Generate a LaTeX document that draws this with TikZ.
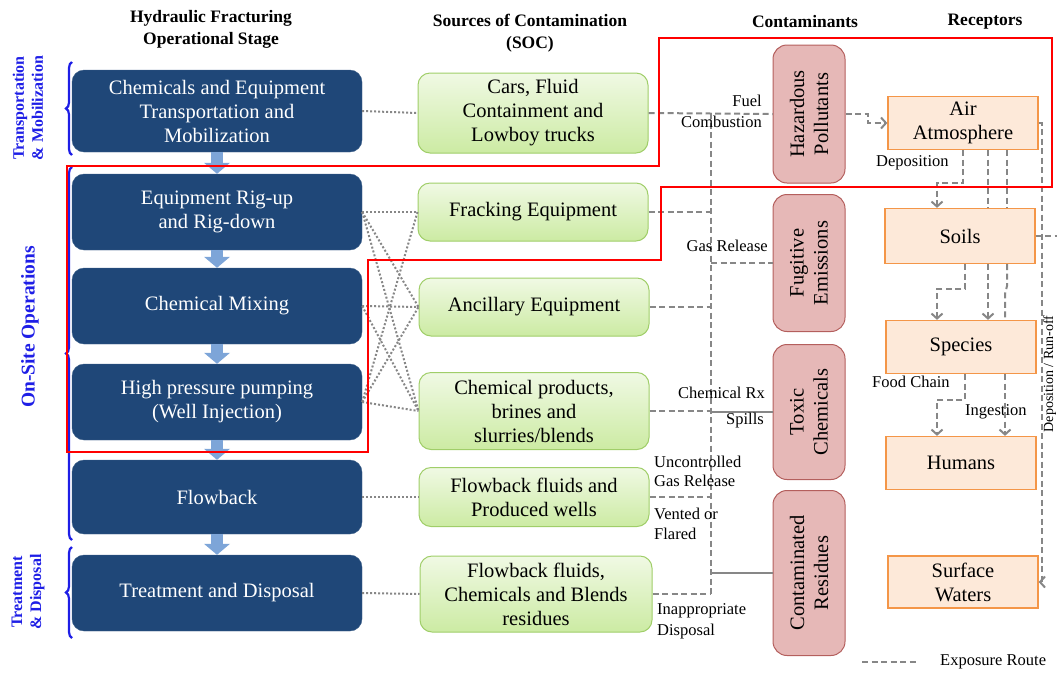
\documentclass[tikz,border=0pt]{standalone}
\usepackage{fontspec}
\setmainfont{Liberation Serif}
\usetikzlibrary{arrows.meta,decorations.pathreplacing}
\definecolor{stageblue}{RGB}{31,71,120}
\definecolor{arrowblue}{RGB}{125,165,216}
\definecolor{soctop}{RGB}{240,249,228}
\definecolor{socbot}{RGB}{204,235,163}
\definecolor{socline}{RGB}{160,206,105}
\definecolor{contfill}{RGB}{230,184,183}
\definecolor{contline}{RGB}{180,95,93}
\definecolor{recfill}{RGB}{253,233,217}
\definecolor{recline}{RGB}{244,150,72}
\definecolor{linegray}{RGB}{135,135,135}
\definecolor{sideblue}{RGB}{30,30,230}
\newcommand\bigtxt{\fontsize{20.5}{24}\selectfont}
\newcommand\smtxt{\fontsize{16.5}{20}\selectfont}
\newcommand\headtxt{\fontsize{17.5}{22}\selectfont}
\newcommand\sidetxt{\fontsize{16}{19}\selectfont}
\tikzset{
  stage/.style={draw=stageblue!85!white, fill=stageblue, text=white, rounded corners=12pt, minimum width=290pt, align=center, font=\bigtxt},
  soc/.style={draw=socline, line width=1pt, top color=soctop, bottom color=socbot, rounded corners=12pt, minimum width=230pt, align=center, font=\bigtxt},
  cont/.style={draw=contline, line width=1pt, fill=contfill, rounded corners=14pt, rotate=90, minimum height=72pt, align=center, font=\bigtxt},
  recp/.style={draw=recline, fill=recfill, line width=1.3pt, minimum width=150pt, minimum height=53pt, align=center, font=\bigtxt},
  dotline/.style={draw=linegray, line width=2pt, dash pattern=on 2pt off 2pt},
  route/.style={draw=linegray, line width=2pt, dash pattern=on 6pt off 3.5pt},
  plain/.style={draw=linegray, line width=2pt},
  rtip/.style={-{Straight Barb[length=5pt,width=11pt]}},
  blk/.style={draw=arrowblue, line width=12pt, -{Triangle[length=11pt,width=26pt,line width=0pt]}},
  lbl/.style={font=\smtxt, inner sep=0pt},
  head/.style={font=\headtxt\bfseries, align=center},
  side/.style={font=\sidetxt\bfseries, text=sideblue, rotate=90, align=center},
  brc/.style={decorate, decoration={brace, amplitude=6pt}, draw=sideblue, line width=2.2pt},
  redline/.style={draw=red, line width=2.4pt}
}
\begin{document}
\begin{tikzpicture}[x=1pt,y=-1pt]
\useasboundingbox (0,0) rectangle (1057,673);
% column heads
\node[head] (hd1) at (211,29) {Hydraulic Fracturing\\Operational Stage};
\node[head] (hd2) at (530,33) {Sources of Contamination\\(SOC)};
\node[head] (hd3) at (805,22) {Contaminants};
\node[head] (hd4) at (985,22) {Receptors};
% side groups
\node[side] (g1) at (28,108) {Transportation\\\& Mobilization};
\node[side, font=\fontsize{19.5}{22}\selectfont\bfseries] (g2) at (30,327) {On-Site Operations};
\node[side] (g3) at (28,592) {Treatment\\\& Disposal};
\draw[brc] (72,155) -- (72,62);
\draw[brc] (72,540) -- (72,167);
\draw[brc] (72,638) -- (72,547);
% stages
\node[stage, minimum height=82pt] (s1) at (217,111) {Chemicals and Equipment\\Transportation and\\Mobilization};
\node[stage, minimum height=76pt] (s2) at (217,212) {Equipment Rig-up\\and Rig-down};
\node[stage, minimum height=76pt] (s3) at (217,306) {Chemical Mixing};
\node[stage, minimum height=76pt] (s4) at (217,402) {High pressure pumping\\(Well Injection)};
\node[stage, minimum height=74pt] (s5) at (217,497) {Flowback};
\node[stage, minimum height=76pt] (s6) at (217,593) {Treatment and Disposal};
% sources
\node[soc, minimum height=80pt] (c1) at (533,113) {Cars, Fluid\\Containment and\\Lowboy trucks};
\node[soc, minimum height=58pt] (c2) at (533,212) {Fracking Equipment};
\node[soc, minimum height=58pt] (c3) at (534,307) {Ancillary Equipment};
\node[soc, minimum height=77pt] (c4) at (534,411) {Chemical products,\\brines and\\slurries/blends};
\node[soc, minimum height=59pt] (c5) at (534,497) {Flowback fluids and\\Produced wells};
\node[soc, minimum height=76pt, minimum width=232pt] (c6) at (536,594) {Flowback fluids,\\Chemicals and Blends\\residues};
% contaminants (turned: north is left, south is right)
\node[cont, minimum width=138pt] (h1) at (809,114) {Hazardous\\Pollutants};
\node[cont, minimum width=137pt] (h2) at (809,263) {Fugitive\\Emissions};
\node[cont, minimum width=135pt] (h3) at (809,412) {Toxic\\Chemicals};
\node[cont, minimum width=165pt] (h4) at (809,573) {Contaminated\\Residues};
% receptors
\node[recp] (r1) at (963,123) {Air\\Atmosphere};
\node[recp, minimum height=55pt] (r2) at (960,236) {Soils};
\node[recp] (r3) at (961,347) {Species};
\node[recp] (r4) at (961,463) {Humans};
\node[recp, minimum height=52pt] (r5) at (963,582) {Surface\\Waters};
%
\foreach \u\v in {s1/s2, s2/s3, s3/s4, s4/s5, s5/s6}
{	\draw[blk] (\u.south) -- (\v.north);
}
\def\links {s1/c1, s2/c2, s2/c3, s2/c4, s3/c3, s3/c4, s4/c2, s4/c3, s4/c4, s5/c5, s6/c6}  % stage to source
\foreach \u\v in \links
{	\draw[dotline] (\u.east) -- (\v.west);
}
% routes to contaminants
\coordinate (bus) at (711,0);
\draw[route] (bus |- c1.east) -- (bus |- c6.east);
\draw[route] (c1.east) -- (h1.north);
\foreach \v in {c2, c3, c4, c5, c6}
{	\draw[route] (\v.east) -- (\v.east -| bus);
}
\draw[route] (bus |- h2.north) -- (h2.north);
\draw[plain] (bus |- h3.north) -- (h3.north);
\draw[plain] (bus |- h4.north) -- (h4.north);
\def\lblE {762/101/Fuel, 762/122/Combustion, 768/246/Gas Release, 765/393/Chemical Rx, 764/421/Spills}
\foreach \x\y\t [count=\i] in \lblE
{	\node[lbl, anchor=east] (le\i) at (\x,\y) {\t};
}
\def\lblW {654/462/Uncontrolled, 654/481/Gas Release, 654/514/Vented or, 654/534/Flared, 657/611/Inappropriate, 657/632/Disposal, 876/163/Deposition, 872/382/Food Chain, 965/412/Ingestion}
\foreach \x\y\t [count=\i] in \lblW
{	\node[lbl, anchor=west] (lw\i) at (\x,\y) {\t};
}
% exposure routes
\draw[route, rtip] (h1.south) -- (868,114) |- (r1.west);
\draw[route, rtip] (r1.south) |- (937,183) -- (r2.north -| 937,0);
\draw[route] (r1.south -| 988,0) -- (r2.north -| 988,0);
\draw[route] (r1.south -| 1007,0) -- (r2.north -| 1007,0);
\draw[route, rtip] (r2.south -| 965,0) |- (937,289) -- (r3.north -| 937,0);
\draw[route, rtip] (r2.south -| 988,0) -- (r3.north -| 988,0);
\draw[route] (r2.south -| 1007,0) -- (1007,286) -- (1005,294) -- (r3.north -| 1005,0);
\draw[route, rtip] (r3.south -| 965,0) |- (937,400) -- (r4.north -| 937,0);
\draw[route, rtip] (r3.south -| 1005,0) -- (r4.north -| 1005,0);
\draw[route, rtip] (r1.east) -| (1042,582) -- (r5.east);
\coordinate (rim) at (1060,236);
\draw[route] (r2.east) -- (rim);
\node[lbl, font=\fontsize{14}{17}\selectfont, rotate=90, anchor=base] (dr) at (1053,374) {Deposition / Run-off};
% key
\coordinate (k1) at (862,662);
\coordinate (k2) at (918,662);
\draw[route] (k1) -- (k2);
\node[lbl, anchor=west] (kt) at (940,662) {Exposure Route};
% red frame
\draw[redline] (67,166) -- (659,166) -- (659,38) -- (1052,38) -- (1052,187) -- (661,187) -- (661,260) -- (368,260) -- (368,452) -- (67,452) -- cycle;
\end{tikzpicture}
\end{document}
